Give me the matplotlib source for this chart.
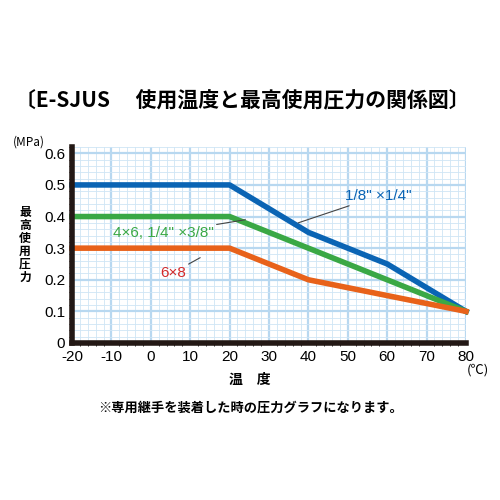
import matplotlib
matplotlib.use("Agg")
import matplotlib.pyplot as plt
from matplotlib.ticker import MultipleLocator

plt.rcParams['font.family'] = ['Noto Sans CJK JP', 'DejaVu Sans']

temps = [-20, 20, 40, 60, 80]
blue_vals = [0.5, 0.5, 0.35, 0.25, 0.1]
green_vals = [0.4, 0.4, 0.3, 0.2, 0.1]
orange_vals = [0.3, 0.3, 0.2, 0.15, 0.1]
x_ticks = [-20, -10, 0, 10, 20, 30, 40, 50, 60, 70, 80]
y_ticks = [0, 0.1, 0.2, 0.3, 0.4, 0.5, 0.6]

fig = plt.figure(figsize=(5, 5), dpi=100)
ax = fig.add_axes([0.144, 0.314, 0.788, 0.392])
ax.set_xlim(-20, 80)
ax.set_ylim(0, 0.62)
ax.xaxis.set_minor_locator(MultipleLocator(2))
ax.yaxis.set_minor_locator(MultipleLocator(0.02))
ax.grid(which='major', color='#b8d8f0', lw=1.6)
ax.grid(which='minor', color='#cfe5f5', lw=0.6)
ax.set_axisbelow(True)
ax.set_xticks(x_ticks)
ax.set_yticks(y_ticks)
ax.set_xticklabels([str(t) for t in x_ticks], family=['Liberation Sans'])
ax.set_yticklabels(['0', '0.1', '0.2', '0.3', '0.4', '0.5', '0.6'], family=['Liberation Sans'])
ax.tick_params(length=0, labelsize=11, pad=5)
for s in ['top', 'right']:
    ax.spines[s].set_visible(False)
for s in ['left', 'bottom']:
    ax.spines[s].set_linewidth(4)
    ax.spines[s].set_color('#231815')

ax.plot(temps, blue_vals, color='#0a64b4', lw=4, clip_on=False)
ax.plot(temps, green_vals, color='#3aa845', lw=4, clip_on=False)
ax.plot(temps, orange_vals, color='#e8621a', lw=4, clip_on=False)

ax.annotate('1/8" ×1/4"', xy=(37.4, 0.38), xytext=(49.3, 0.465), color='#0a64b4',
            fontsize=11, va='center', ha='left', family=['Liberation Sans'],
            arrowprops=dict(arrowstyle='-', color='#444', lw=0.8, shrinkA=0, shrinkB=0))
ax.annotate('4×6, 1/4" ×3/8"', xy=(24, 0.39), xytext=(16, 0.347), color='#3aa845',
            fontsize=11, va='center', ha='right', family=['Liberation Sans'],
            arrowprops=dict(arrowstyle='-', color='#444', lw=0.8, shrinkA=0, shrinkB=0))
ax.annotate('6×8', xy=(15, 0.287), xytext=(5.6, 0.222), color='#d42a2a',
            fontsize=11, va='center', ha='center', family=['Liberation Sans'],
            arrowprops=dict(arrowstyle='-', color='#444', lw=0.8, shrinkA=0, shrinkB=8))

fig.text(0.03, 0.8, '〔E-SJUS　 使用温度と最高使用圧力の関係図〕', fontsize=15,
         fontweight='bold', va='center', ha='left')
fig.text(0.025, 0.716, '(MPa)', fontsize=8.5, va='center')
fig.text(0.05, 0.51, '最\n高\n使\n用\n圧\n力', fontsize=8.5, fontweight='bold',
         va='center', ha='center', linespacing=1.0)
fig.text(0.5, 0.24, '温　度', fontsize=10, fontweight='bold', ha='center', va='center')
fig.text(0.955, 0.259, '(℃)', fontsize=9.5, ha='center', va='center')
fig.text(0.5, 0.185, '※専用継手を装着した時の圧力グラフになります。', fontsize=9.5,
         fontweight='bold', ha='center', va='center')

fig.savefig('out.png', dpi=100)
